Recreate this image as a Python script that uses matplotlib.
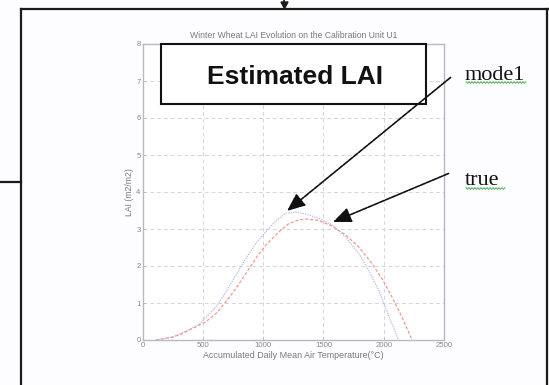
import numpy as np
import matplotlib
matplotlib.use("Agg")
import matplotlib.pyplot as plt
from matplotlib.lines import Line2D
from matplotlib.patches import Rectangle, FancyArrowPatch

# Accumulated daily mean air temperature (°C) and LAI (m2/m2)
true_temp = [110, 250, 335, 445, 528, 610, 693, 775, 858, 940, 1023, 1133,
             1215, 1300, 1360, 1462, 1572, 1683, 1792, 1902, 1984, 2067, 2150, 2235]
true_lai = [0.0, 0.08, 0.18, 0.36, 0.5, 0.72, 1.04, 1.4, 1.8, 2.21, 2.57, 2.93,
            3.15, 3.25, 3.27, 3.23, 3.08, 2.84, 2.52, 2.07, 1.67, 1.17, 0.63, 0.0]

model_temp = [110, 250, 335, 472, 610, 693, 775, 858, 940, 1023, 1105, 1185,
              1270, 1360, 1462, 1572, 1683, 1792, 1874, 1957, 2012, 2067, 2122]
model_lai = [0.0, 0.08, 0.2, 0.43, 0.9, 1.31, 1.76, 2.21, 2.61, 2.93, 3.22, 3.42,
             3.46, 3.4, 3.29, 3.11, 2.79, 2.34, 1.89, 1.35, 0.9, 0.45, 0.0]

x_ticks = [0, 500, 1000, 1500, 2000, 2500]
y_ticks = [0, 1, 2, 3, 4, 5, 6, 7, 8]

W, H = 549, 385
fig = plt.figure(figsize=(W / 100, H / 100), dpi=100)
fig.patch.set_facecolor("#fdfcfe")


def fp(x, y):
    """Pixel position (from top-left) to figure fraction."""
    return (x / W, 1 - y / H)


ax_l, ax_r, ax_t, ax_b = 142.6, 444.0, 44.0, 340.0
ax = fig.add_axes([ax_l / W, 1 - ax_b / H, (ax_r - ax_l) / W, (ax_b - ax_t) / H])
ax.set_facecolor("white")

grey = "#b8b8c4"
ax.plot(model_temp, model_lai, color="#b0b6ee", lw=0.8, ls=(0, (1.2, 1.0)))
ax.plot(true_temp, true_lai, color="#f29a90", lw=0.9, ls=(0, (2.5, 1.5)))

ax.set_xlim(0, 2500)
ax.set_ylim(0, 8)
ax.set_xticks(x_ticks)
ax.set_yticks(y_ticks)
ax.set_xticklabels([str(v) for v in x_ticks])
ax.set_yticklabels([str(v) for v in y_ticks])
ax.grid(True, color="#d4d4e0", ls=(0, (4, 3)), lw=0.7)
for s in ax.spines.values():
    s.set_color(grey)
    s.set_linewidth(1.0)
ax.tick_params(colors=grey, labelcolor="#8a8a8a", labelsize=5.6, length=2, width=0.6,
               direction="in", pad=1.5)
for lab in ax.get_xticklabels() + ax.get_yticklabels():
    lab.set_family("Liberation Sans")

ax.set_title("Winter Wheat LAI Evolution on the Calibration Unit U1",
             fontsize=6.2, color="#7a7a7a", family="Liberation Sans", pad=4)
ax.set_xlabel("Accumulated Daily Mean Air Temperature(°C)", fontsize=6.4,
              color="#7a7a7a", family="Liberation Sans", labelpad=1.5)
ax.set_ylabel("LAI (m2/m2)", fontsize=6.2, color="#7a7a7a",
              family="Liberation Sans", labelpad=1.5)

# Outer frame of the flowchart box
frame_kw = dict(color="#1a1a1a", lw=1.6, transform=fig.transFigure)
fig.add_artist(Line2D(*zip(fp(21, 9), fp(549, 9)), **frame_kw))
fig.add_artist(Line2D(*zip(fp(21, 9), fp(21, 385)), **frame_kw))
fig.add_artist(Line2D(*zip(fp(547, 9), fp(547, 385)), **frame_kw))
fig.add_artist(Line2D(*zip(fp(0, 182), fp(21, 182)), **frame_kw))
# small incoming arrow on top edge
fig.add_artist(Line2D(*zip(fp(284.5, 0), fp(284.5, 3)), color="#1a1a1a", lw=1.2,
                      transform=fig.transFigure))
tri = plt.Polygon([fp(281, 2), fp(288, 2), fp(284.5, 8.5)], closed=True,
                  color="#1a1a1a", transform=fig.transFigure)
fig.add_artist(tri)

# "Estimated LAI" callout box
bx0, by0, bx1, by1 = 161, 43.5, 425.5, 104
box = Rectangle(fp(bx0, by1), (bx1 - bx0) / W, (by1 - by0) / H, transform=fig.transFigure,
                facecolor="white", edgecolor="#111111", lw=1.5, zorder=5)
fig.add_artist(box)
fig.text(*fp(295, 83.5), "Estimated LAI", ha="center", va="baseline",
         fontsize=19, fontweight="bold", family="Liberation Sans", color="#111111",
         zorder=6)

# Arrows pointing at the curves
arrow_kw = dict(transform=fig.transFigure, arrowstyle="-|>,head_length=11,head_width=4.6",
                color="#111111", lw=1.2, linestyle=(0, (3, 0.8)), zorder=7,
                shrinkA=0, shrinkB=0)
fig.add_artist(FancyArrowPatch(fp(450.5, 77.5), fp(287, 211), **arrow_kw))
fig.add_artist(FancyArrowPatch(fp(448.5, 173.5), fp(333, 222), **arrow_kw))

fig.text(*fp(465, 80), "mode1", ha="left", va="baseline", fontsize=16,
         family="Liberation Serif", color="#111111")
fig.text(*fp(465, 185), "true", ha="left", va="baseline", fontsize=16,
         family="Liberation Serif", color="#111111")


def squiggle(x0, x1, y):
    xs = np.arange(x0, x1 + 0.01, 1.5)
    ys = y + np.where(np.arange(len(xs)) % 2 == 0, -0.9, 0.9)
    pts = [fp(a, b) for a, b in zip(xs, ys)]
    fig.add_artist(Line2D([p[0] for p in pts], [p[1] for p in pts], color="#3ca03c",
                          lw=0.6, transform=fig.transFigure))


squiggle(466, 527, 82.5)
squiggle(466, 506, 188.5)

fig.savefig("out.png", dpi=100, facecolor=fig.get_facecolor())
